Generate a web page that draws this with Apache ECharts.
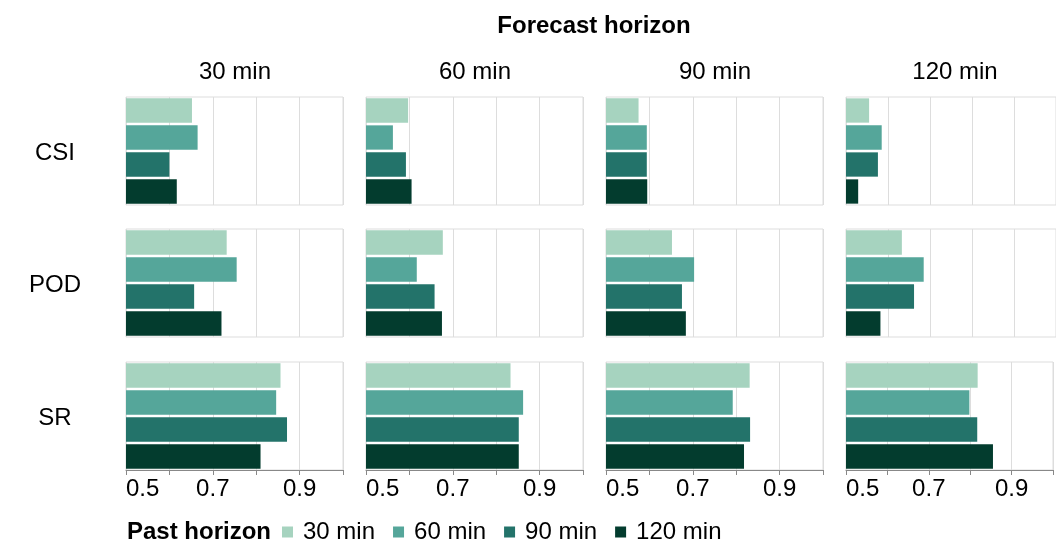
<!DOCTYPE html>
<html>
<head>
<meta charset="utf-8">
<script src="https://cdn.jsdelivr.net/npm/echarts@6/dist/echarts.min.js"></script>
<style>
  html, body { margin: 0; padding: 0; background: #fff; }
  #chart { width: 1056px; height: 541px; }
</style>
</head>
<body>
<div id="chart"></div>
<script>
// Forecast horizons (columns), verification metrics (rows), past horizons (bars)
const forecastHorizons = ['30 min', '60 min', '90 min', '120 min'];
const metrics = ['CSI', 'POD', 'SR'];
const pastHorizons = ['30 min', '60 min', '90 min', '120 min'];

// Scores per forecast horizon; inner order follows pastHorizons
const csiScores = [
  [0.652, 0.665, 0.600, 0.617],
  [0.597, 0.562, 0.592, 0.605],
  [0.575, 0.594, 0.594, 0.595],
  [0.555, 0.585, 0.576, 0.529]
];
const podScores = [
  [0.732, 0.755, 0.657, 0.720],
  [0.677, 0.617, 0.658, 0.675],
  [0.652, 0.703, 0.675, 0.684],
  [0.633, 0.685, 0.662, 0.582]
];
const srScores = [
  [0.856, 0.846, 0.871, 0.810],
  [0.833, 0.862, 0.852, 0.852],
  [0.831, 0.792, 0.832, 0.818],
  [0.818, 0.798, 0.817, 0.855]
];
const scoresByMetric = [csiScores, podScores, srScores];

// Axis range and tick labels
const axisMin = 0.5;
const axisMax = 1.0;
const axisStep = 0.1;
const shownTicks = ['0.5', '0.7', '0.9'];

const palette = ['#a6d3bf', '#55a69a', '#23736a', '#033c2e'];
const FONT = 'Liberation Sans, Arial, Helvetica, sans-serif';
const FS = 24;

// Panel layout
const colLeft = [126, 366, 606, 846];
const rowTop = [97, 229, 362];
const panelW = 217;
const panelH = 108;

const grid = [], xAxis = [], yAxis = [], series = [];
let idx = 0;
metrics.forEach((metric, r) => {
  forecastHorizons.forEach((fh, c) => {
    const bottomRow = r === metrics.length - 1;
    grid.push({
      left: colLeft[c], top: rowTop[r], width: panelW, height: panelH,
      show: true, borderColor: '#dddddd', borderWidth: 1, backgroundColor: 'transparent'
    });
    xAxis.push({
      type: 'value', gridIndex: idx, min: axisMin, max: axisMax, interval: axisStep,
      axisLine: { show: bottomRow, lineStyle: { color: '#888888', width: 1 } },
      axisTick: { show: bottomRow, length: 5, lineStyle: { color: '#888888' } },
      splitLine: { show: true, lineStyle: { color: '#dddddd', width: 1 } },
      axisLabel: {
        show: bottomRow, color: '#000', fontSize: FS, fontFamily: FONT, margin: 7,
        alignMinLabel: 'left', showMaxLabel: true,
        formatter: v => {
          const s = v.toFixed(1);
          return shownTicks.indexOf(s) >= 0 ? s : '';
        }
      }
    });
    yAxis.push({
      type: 'category', gridIndex: idx, data: pastHorizons, inverse: true,
      axisLine: { show: false }, axisTick: { show: false }, axisLabel: { show: false },
      splitLine: { show: false }
    });
    const vals = scoresByMetric[r][c];
    pastHorizons.forEach((ph, k) => {
      series.push({
        name: ph, type: 'bar', xAxisIndex: idx, yAxisIndex: idx,
        barGap: '-100%', barCategoryGap: '10%',
        itemStyle: { color: palette[k] },
        data: pastHorizons.map((_, j) => (j === k ? vals[j] : '-'))
      });
    });
    idx++;
  });
});

// Titles, column headers and row labels (absolute coordinates)
const graphic = [
  {
    type: 'text',
    style: { text: 'Forecast horizon', x: 594, y: 26, align: 'center', verticalAlign: 'middle',
      font: 'bold ' + FS + 'px ' + FONT, fill: '#000' }
  },
  {
    type: 'text',
    style: { text: 'Past horizon', x: 127, y: 532, align: 'left', verticalAlign: 'middle',
      font: 'bold ' + FS + 'px ' + FONT, fill: '#000' }
  }
];
forecastHorizons.forEach((fh, c) => {
  graphic.push({
    type: 'text',
    style: { text: fh, x: colLeft[c] + panelW / 2 + 0.5, y: 72, align: 'center', verticalAlign: 'middle',
      font: FS + 'px ' + FONT, fill: '#000' }
  });
});
metrics.forEach((m, r) => {
  graphic.push({
    type: 'text',
    style: { text: m, x: 55, y: rowTop[r] + panelH / 2 + 2, align: 'center', verticalAlign: 'middle',
      font: FS + 'px ' + FONT, fill: '#000' }
  });
});

const chart = echarts.init(document.getElementById('chart'), null, { renderer: 'canvas' });
chart.setOption({
  animation: false,
  backgroundColor: '#ffffff',
  grid, xAxis, yAxis, series, graphic,
  legend: {
    data: pastHorizons.map((ph, k) => ({ name: ph, itemStyle: { color: palette[k] } })),
    left: 282, top: 520, itemWidth: 11, itemHeight: 11, itemGap: 18,
    icon: 'rect', padding: 0,
    textStyle: { fontSize: FS, fontFamily: FONT, color: '#000', padding: [0, 0, 0, 5] },
    selectedMode: false
  }
});
</script>
</body>
</html>
